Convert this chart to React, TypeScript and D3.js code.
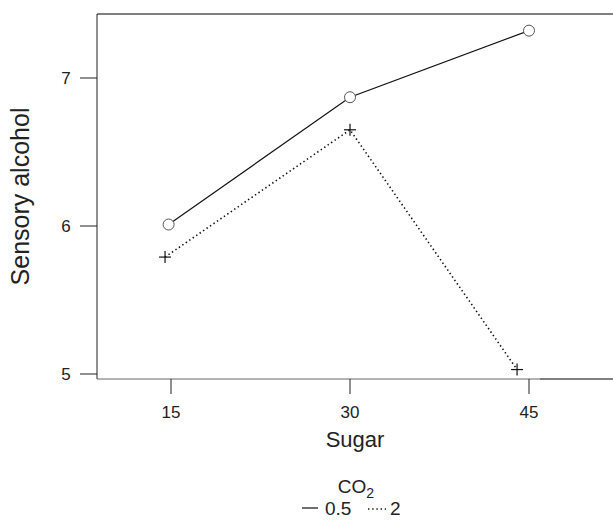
import React from "react";
import * as d3 from "d3";

const sugarTicks = [15, 30, 45];
const yTicks = [5, 6, 7];
const co2Levels = ["0.5", "2"];
const sugarLow = [14.8, 30, 45];
const alcoholLow = [6.01, 6.87, 7.32];
const sugarHigh = [14.5, 30, 44];
const alcoholHigh = [5.79, 6.65, 5.03];

const W = 613;
const H = 521;
const FONT = "'Liberation Sans', Arial, sans-serif";

export default function App() {
  const x = d3.scaleLinear().domain([15, 45]).range([171, 529]);
  const y = d3.scaleLinear().domain([5, 7]).range([374, 78]);
  const left = 97;
  const top = 14;
  const bottom = 379;

  const line = d3
    .line<[number, number]>()
    .x((d) => x(d[0]))
    .y((d) => y(d[1]));

  const low: [number, number][] = sugarLow.map((s, i) => [s, alcoholLow[i]]);
  const high: [number, number][] = sugarHigh.map((s, i) => [s, alcoholHigh[i]]);

  return (
    <svg
      width={W}
      height={H}
      style={{ position: "absolute", left: 0, top: 0, background: "#fff" }}
      fontFamily={FONT}
    >
      <rect width={W} height={H} fill="#fff" />
      {/* box */}
      <line x1={left} y1={top} x2={W} y2={top} stroke="#000" strokeWidth={1} />
      <line x1={left} y1={top} x2={left} y2={bottom} stroke="#222" strokeWidth={1} />
      <line x1={left} y1={bottom} x2={540} y2={bottom} stroke="#666" strokeWidth={1} />
      <line x1={540} y1={bottom} x2={W} y2={bottom} stroke="#000" strokeWidth={1} />

      {/* y axis ticks */}
      {yTicks.map((t) => (
        <g key={t}>
          <line x1={80} x2={left} y1={y(t)} y2={y(t)} stroke="#222" strokeWidth={1} />
          <text x={66} y={y(t)} dy="0.36em" textAnchor="middle" fontSize={17} fill="#222">
            {t}
          </text>
        </g>
      ))}
      {/* x axis ticks */}
      {sugarTicks.map((t) => (
        <g key={t}>
          <line x1={x(t)} x2={x(t)} y1={bottom} y2={bottom + 15} stroke="#222" strokeWidth={1} />
          <text x={x(t)} y={418} textAnchor="middle" fontSize={17} fill="#222">
            {t}
          </text>
        </g>
      ))}

      {/* lines */}
      <path d={line(low) || ""} fill="none" stroke="#111" strokeWidth={1.2} />
      <path
        d={line(high) || ""}
        fill="none"
        stroke="#111"
        strokeWidth={1.6}
        strokeDasharray="1.4 2.8"
      />
      {low.map((d, i) => (
        <circle key={i} cx={x(d[0])} cy={y(d[1])} r={5.5} fill="#fff" stroke="#555" strokeWidth={1} />
      ))}
      {high.map((d, i) => (
        <g key={i} stroke="#111" strokeWidth={1.2}>
          <line x1={x(d[0]) - 6} x2={x(d[0]) + 6} y1={y(d[1])} y2={y(d[1])} />
          <line x1={x(d[0])} x2={x(d[0])} y1={y(d[1]) - 6} y2={y(d[1]) + 6} />
        </g>
      ))}

      {/* axis titles */}
      <text x={355} y={447} textAnchor="middle" fontSize={22} fill="#222">
        Sugar
      </text>
      <text
        transform={`translate(29,${(top + bottom) / 2}) rotate(-90)`}
        textAnchor="middle"
        fontSize={25}
        fill="#222"
      >
        Sensory alcohol
      </text>

      {/* legend */}
      <text x={356} y={493} textAnchor="middle" fontSize={19} fill="#222">
        CO<tspan dy={5} fontSize={14}>2</tspan>
      </text>
      <line x1={302} x2={318} y1={508} y2={508} stroke="#111" strokeWidth={1.2} />
      <text x={325} y={515} fontSize={19} fill="#222">
        {co2Levels[0]}
      </text>
      <line x1={368} x2={386} y1={509} y2={509} stroke="#111" strokeWidth={1.5} strokeDasharray="1.4 2.8" />
      <text x={390} y={515} fontSize={19} fill="#222">
        {co2Levels[1]}
      </text>
    </svg>
  );
}
